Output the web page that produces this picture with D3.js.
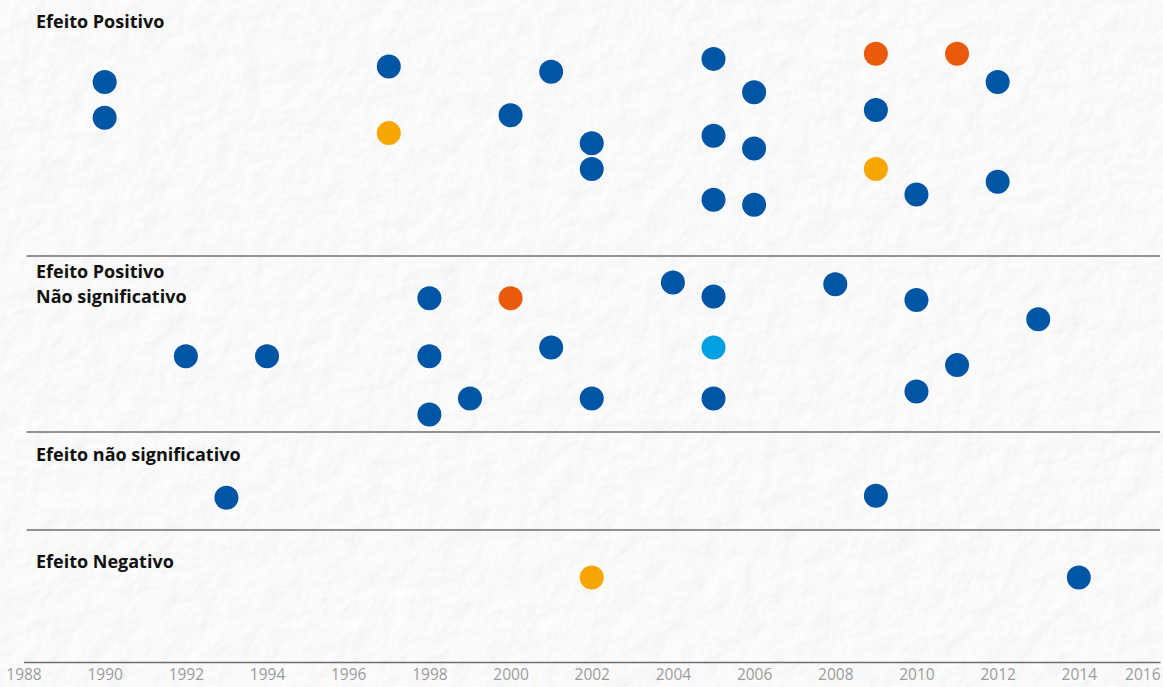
<!DOCTYPE html>
<meta charset="utf-8">
<script src="https://d3js.org/d3.v7.min.js"></script>
<style>
body{
  margin: 0;
  background: #f2f2f2;
}
.label{
  font-family: "Open Sans";
  font-weight: bold;
  font-size: 18px;
  fill: #111;
}
.tick text{
  font-family: "Open Sans";
  font-size: 15.5px;
  fill: #9b9b9b;
}
.rule{
  stroke: #6f6f6f;
  stroke-width: 1.5;
}
</style>

<div id="chart"></div>

<script>

// grupos (faixas) do gráfico
var groups = ["Efeito Positivo", "Efeito Positivo|Não significativo", "Efeito não significativo", "Efeito Negativo"];

// a = azul, b = laranja, c = amarelo, d = azul claro
var kinds = ["a", "b", "c", "d"];
var kindColors = ["#0055a5", "#e95a0c", "#f7a600", "#00a0e3"];

// Efeito Positivo
var posYears  = [1990, 1990, 1997, 1997, 2000, 2001, 2002, 2002, 2005, 2005, 2005, 2006, 2006, 2006, 2009, 2009, 2009, 2010, 2011, 2012, 2012];
var posSpread = [0.32, 0.46, 0.26, 0.52, 0.45, 0.28, 0.56, 0.66, 0.23, 0.53, 0.78, 0.36, 0.58, 0.80, 0.21, 0.43, 0.66, 0.76, 0.21, 0.32, 0.71];
var posKind   = ["a", "a", "a", "c", "a", "a", "a", "a", "a", "a", "a", "a", "a", "a", "b", "a", "c", "a", "b", "a", "a"];

// Efeito Positivo, não significativo
var posNsYears  = [1992, 1994, 1998, 1998, 1998, 1999, 2000, 2001, 2002, 2004, 2005, 2005, 2005, 2008, 2010, 2010, 2011, 2013];
var posNsSpread = [0.57, 0.57, 0.24, 0.57, 0.90, 0.81, 0.24, 0.52, 0.81, 0.15, 0.23, 0.52, 0.81, 0.16, 0.25, 0.77, 0.62, 0.36];
var posNsKind   = ["a", "a", "a", "a", "a", "a", "b", "a", "a", "a", "a", "d", "a", "a", "a", "a", "a", "a"];

// Efeito não significativo
var nsYears  = [1993, 2009];
var nsSpread = [0.67, 0.65];
var nsKind   = ["a", "a"];

// Efeito Negativo
var negYears  = [2002, 2014];
var negSpread = [0.36, 0.36];
var negKind   = ["c", "a"];

var tickYears = d3.range(1988, 2017, 2);


var width = 1163, height = 687;
var bandEdges = [0, 256, 432, 530, 662];   // limites das faixas
var labelDy = [28, 22, 29, 38];

var svg = d3.select("#chart")
  .append("svg")
    .attr("width", width)
    .attr("height", height);

// textura de papel
var filter = svg.append("defs").append("filter")
  .attr("id", "paper")
  .attr("x", 0).attr("y", 0).attr("width", "100%").attr("height", "100%");
filter.append("feTurbulence")
  .attr("type", "fractalNoise")
  .attr("baseFrequency", "0.04")
  .attr("numOctaves", 5)
  .attr("result", "noise");
filter.append("feDiffuseLighting")
  .attr("in", "noise")
  .attr("lighting-color", "#ffffff")
  .attr("surfaceScale", 1.1)
  .append("feDistantLight")
    .attr("azimuth", 45)
    .attr("elevation", 72);

svg.append("rect")
  .attr("width", width)
  .attr("height", height)
  .attr("fill", "#f2f2f2")
  .attr("filter", "url(#paper)");

var x = d3.scaleLinear()
  .domain([1988, 2016])
  .range([23.5, 1160]);

var color = d3.scaleOrdinal()
  .domain(kinds)
  .range(kindColors);

// uma escala vertical por faixa
var yBand = groups.map(function(g, i) {
  return d3.scaleLinear().domain([0, 1]).range([bandEdges[i], bandEdges[i + 1]]);
});

var rows = [];
function addRows(g, yrs, spread, kind) {
  yrs.forEach(function(yr, i) {
    rows.push({group: g, year: yr, spread: spread[i], kind: kind[i]});
  });
}
addRows(0, posYears, posSpread, posKind);
addRows(1, posNsYears, posNsSpread, posNsKind);
addRows(2, nsYears, nsSpread, nsKind);
addRows(3, negYears, negSpread, negKind);

// linhas separadoras
svg.append("g")
  .selectAll("line")
  .data(bandEdges.slice(1, 4))
  .enter()
  .append("line")
    .attr("class", "rule")
    .attr("x1", x.range()[0] + 3)
    .attr("x2", x.range()[1])
    .attr("y1", function(d) { return d; })
    .attr("y2", function(d) { return d; });

// títulos das faixas
groups.forEach(function(g, i) {
  var t = svg.append("text")
    .attr("class", "label")
    .attr("x", 36)
    .attr("y", bandEdges[i] + labelDy[i]);
  g.split("|").forEach(function(s, j) {
    t.append("tspan")
      .attr("x", 36)
      .attr("dy", j ? 25 : 0)
      .text(s);
  });
});

// eixo x
var axis = svg.append("g")
  .attr("transform", "translate(0," + bandEdges[4] + ")")
  .call(d3.axisBottom(x)
    .tickValues(tickYears)
    .tickFormat(d3.format("d"))
    .tickSize(0)
    .tickPadding(7));
axis.select(".domain")
  .attr("stroke", "#6f6f6f")
  .attr("stroke-width", 1.5);
axis.selectAll(".tick text")
  .filter(function(d) { return d === 2016; })
  .attr("text-anchor", "end");

// pontos
svg.append("g")
  .selectAll("circle")
  .data(rows)
  .enter()
  .append("circle")
    .attr("cx", function(d) { return x(d.year); })
    .attr("cy", function(d) { return yBand[d.group](d.spread); })
    .attr("r", 12)
    .style("fill", function(d) { return color(d.kind); });

</script>
